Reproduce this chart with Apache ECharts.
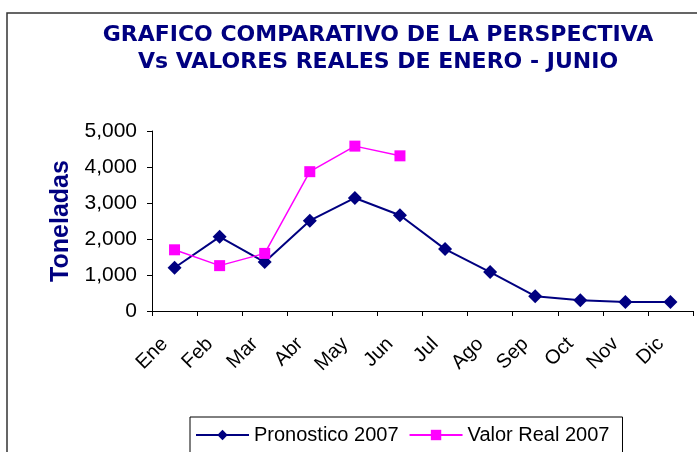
<!DOCTYPE html>
<html>
<head>
<meta charset="utf-8">
<script src="https://cdn.jsdelivr.net/npm/echarts@6/dist/echarts.min.js"></script>
<style>html,body{margin:0;padding:0;background:#fff}#c{width:697px;height:452px}</style>
</head>
<body>
<div id="c"></div>
<script>
const titleLines = ['GRAFICO COMPARATIVO DE LA PERSPECTIVA', 'Vs VALORES REALES DE ENERO - JUNIO'];
const months = ['Ene','Feb','Mar','Abr','May','Jun','Jul','Ago','Sep','Oct','Nov','Dic'];
const pronostico = [1200, 2060, 1360, 2510, 3140, 2660, 1720, 1080, 410, 300, 250, 250];
const valorReal = [1700, 1260, 1600, 3870, 4580, 4310];
const seriesNames = ['Pronostico 2007', 'Valor Real 2007'];
const yAxisName = 'Toneladas';

const chart = echarts.init(document.getElementById('c'), null, {renderer: 'canvas'});
chart.setOption({
  animation: false,
  backgroundColor: '#fff',
  graphic: [
    {type: 'rect', shape: {x: 7, y: 13, width: 720, height: 460}, style: {fill: 'none', stroke: '#333', lineWidth: 1.5}, silent: true, z: -1},
    {type: 'text', x: 378, y: 35, style: {text: titleLines[0], textAlign: 'center', textVerticalAlign: 'middle', font: 'bold 22px "DejaVu Sans"', fill: '#000080'}},
    {type: 'text', x: 378, y: 62, style: {text: titleLines[1], textAlign: 'center', textVerticalAlign: 'middle', font: 'bold 22px "DejaVu Sans"', fill: '#000080'}}
  ],
  grid: {left: 152, right: 4, top: 131, bottom: 141, containLabel: false},
  legend: {
    left: 190, top: 417,
    padding: [8, 13, 30, 5],
    borderColor: '#000', borderWidth: 1,
    itemWidth: 53, itemHeight: 13, itemGap: 10,
    textStyle: {fontFamily: 'Liberation Sans', fontSize: 20, color: '#000'},
    data: seriesNames
  },
  xAxis: {
    type: 'category', data: months, boundaryGap: true,
    axisLine: {lineStyle: {color: '#000', width: 1}},
    axisTick: {show: true, length: 5, lineStyle: {color: '#000'}},
    axisLabel: {rotate: 45, fontFamily: 'Liberation Sans', fontSize: 20, color: '#000', margin: 20, interval: 0,
      padding: [0, 14, 0, 0]}
  },
  yAxis: {
    type: 'value', min: 0, max: 5000, interval: 1000,
    name: yAxisName, nameLocation: 'middle', nameRotate: 90, nameGap: 71,
    nameTextStyle: {fontFamily: 'Liberation Sans', fontWeight: 'bold', fontSize: 25, color: '#000080'},
    axisLine: {show: true, lineStyle: {color: '#000', width: 1}},
    axisTick: {show: true, length: 5, lineStyle: {color: '#000'}},
    splitLine: {show: false},
    axisLabel: {fontFamily: 'Liberation Sans', fontSize: 21, color: '#000', margin: 15,
      formatter: v => v.toLocaleString('en-US')}
  },
  series: [
    {name: seriesNames[0], type: 'line', data: pronostico, symbol: 'diamond', symbolSize: 14,
      lineStyle: {color: '#000080', width: 2}, itemStyle: {color: '#000080'}},
    {name: seriesNames[1], type: 'line', data: valorReal, symbol: 'rect', symbolSize: 11,
      lineStyle: {color: '#FF00FF', width: 1.5}, itemStyle: {color: '#FF00FF'}}
  ]
});
</script>
</body>
</html>
